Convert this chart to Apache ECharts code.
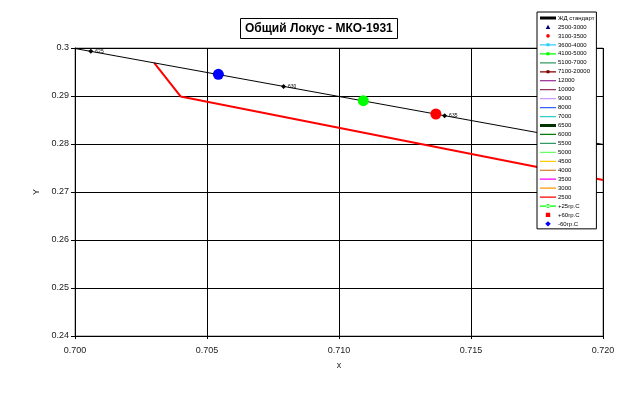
<!DOCTYPE html>
<html><head><meta charset="utf-8">
<script src="https://cdn.jsdelivr.net/npm/echarts@6/dist/echarts.min.js"></script>
<style>html,body{margin:0;padding:0;background:#fff}#c{width:622px;height:406px}</style>
</head><body><div id="c"></div>
<script>
// Spectral locus (ЖД стандарт)
const locusX = [0.6915, 0.7006, 0.7079, 0.7140, 0.7190, 0.7260];
const locusY = [0.3083, 0.2993, 0.2920, 0.2859, 0.2809, 0.2740];
const locusLabels = ['620', '625', '630', '635', '640', '650'];
// Red line (2500)
const redX = [0.7030, 0.7040, 0.7200];
const redY = [0.2969, 0.2899, 0.2725];
// Temperature points
const p25 = [0.71092, 0.28902];
const p60 = [0.71367, 0.28625];
const m60 = [0.70543, 0.29452];
// Axis ticks
const xTicks = ['0.700', '0.705', '0.710', '0.715', '0.720'];
const yTicks = ['0.24', '0.25', '0.26', '0.27', '0.28', '0.29', '0.3'];
// Legend entries
const legendNames = ['ЖД стандарт','2500-3000','3100-3500','3600-4000','4100-5000','5100-7000','7100-20000',
  '12000','10000','9000','8000','7000','6500','6000','5500','5000','4500','4000','3500','3000','2500',
  '+25гр.С','+60гр.С','-60гр.С'];
const legendColors = ['#000000','#000080','#ff0000','#33ccff','#00ff00','#339966','#800000',
  '#800080','#993366','#cc99ff','#3366ff','#33cccc','#003300','#008000','#339966','#66ff66','#ffcc00','#cc6600','#ff00ff','#ff9900','#ff0000',
  '#00ff00','#ff0000','#0000ff'];

const FONT = 'Liberation Sans';
// legend icon shapes in a 16x6 box (tiny corner dots fix the bounding box)
const BOX = 'M0,0h0.01v0.01h-0.01zM15.99,5.99h0.01v0.01h-0.01z';
const ICON = {
  line: 'path://' + BOX + 'M0,2.5h16v1.2h-16z',
  thick: 'path://' + BOX + 'M0,1.5h16v3h-16z',
  lineRect: 'path://' + BOX + 'M0,2.5h16v1.2h-16zM6.5,1.5h3v3h-3z',
  lineCircle: 'path://' + BOX + 'M0,2.5h16v1.2h-16zM6,3a2,2 0 1,0 4,0a2,2 0 1,0 -4,0z',
  triangle: 'path://' + BOX + 'M8,0.8L10.3,5H5.7z',
  circle: 'path://' + BOX + 'M6.2,3a1.8,1.8 0 1,0 3.6,0a1.8,1.8 0 1,0 -3.6,0z',
  rect: 'path://' + BOX + 'M5.8,0.8h4.4v4.4h-4.4z',
  diamond: 'path://' + BOX + 'M8,0.3L10.8,3L8,5.7L5.2,3z'
};

const series = [];
const legendData = [];
legendNames.forEach((n, i) => {
  const c = legendColors[i];
  let s = {name: n, type: 'line', data: [], color: c, symbol: 'none', lineStyle: {width: 1, color: c}, itemStyle: {color: c, opacity: 1}};
  let icon = ICON.line;
  if (n === 'ЖД стандарт') {
    s.data = locusX.map((x, k) => [x, locusY[k]]);
    s.z = 3;
    icon = ICON.thick;
  } else if (n === '2500-3000') {
    s = {name: n, type: 'scatter', data: [], symbol: 'triangle', color: c, itemStyle: {color: c, opacity: 1}};
    icon = ICON.triangle;
  } else if (n === '3100-3500') {
    s = {name: n, type: 'scatter', data: [], symbol: 'circle', color: c, itemStyle: {color: c, opacity: 1}};
    icon = ICON.circle;
  } else if (n === '3600-4000' || n === '4100-5000' || n === '7100-20000') {
    icon = ICON.lineRect;
  } else if (n === '6500') {
    s.lineStyle.width = 3;
    icon = ICON.thick;
  } else if (n === '2500') {
    s.data = redX.map((x, k) => [x, redY[k]]);
    s.lineStyle.width = 2;
    s.z = 2;
  } else if (n === '+25гр.С') {
    s.data = [p25]; s.symbol = 'circle'; s.symbolSize = 11; s.z = 5;
    icon = ICON.lineCircle;
  } else if (n === '+60гр.С') {
    s = {name: n, type: 'scatter', data: [p60], symbol: 'circle', symbolSize: 11, color: c, itemStyle: {color: c, opacity: 1}, z: 5};
    icon = ICON.rect;
  } else if (n === '-60гр.С') {
    s = {name: n, type: 'scatter', data: [m60], symbol: 'circle', symbolSize: 11, color: c, itemStyle: {color: c, opacity: 1}, z: 5};
    icon = ICON.diamond;
  }
  series.push(s);
  legendData.push({name: n, icon: icon, itemStyle: {color: c, borderWidth: 0, opacity: 1}});
});
// locus markers with wavelength labels (not in legend)
series.push({
  name: 'locusPts', type: 'scatter', symbol: 'diamond', symbolSize: 5, color: '#000', z: 3,
  itemStyle: {color: '#000', opacity: 1},
  data: locusX.map((x, k) => ({value: [x, locusY[k]], label: {show: true, formatter: locusLabels[k]}})),
  label: {position: 'right', distance: 2, fontSize: 5, fontFamily: FONT, color: '#000'}
});

const chart = echarts.init(document.getElementById('c'), null, {renderer: 'canvas'});
chart.setOption({
  animation: false,
  backgroundColor: '#fff',
  title: {
    text: 'Общий Локус - МКО-1931', left: 240, top: 18,
    borderColor: '#000', borderWidth: 1, padding: [5, 5, 4, 5],
    textStyle: {fontFamily: FONT, fontSize: 12, fontWeight: 'bold', color: '#000'}
  },
  legend: {
    data: legendData, orient: 'vertical', left: 537, top: 12, z: 10,
    itemWidth: 16, itemHeight: 6, itemGap: 2.95, padding: [3, 2, 2, 3],
    borderColor: '#000', borderWidth: 1, backgroundColor: '#fff',
    textStyle: {fontFamily: FONT, fontSize: 6, color: '#000', padding: [0, 0, 0, -3]},
    selectedMode: false
  },
  grid: {left: 75, right: 19, top: 48, bottom: 70, show: true, borderColor: '#808080', borderWidth: 1},
  xAxis: {
    type: 'value', min: 0.700, max: 0.720, interval: 0.005,
    name: 'x', nameLocation: 'middle', nameGap: 25,
    nameTextStyle: {fontFamily: FONT, fontSize: 9, color: '#222'},
    axisLine: {show: true, lineStyle: {color: '#000', width: 1}},
    axisTick: {show: true, length: 3, inside: false, lineStyle: {color: '#000'}},
    axisLabel: {fontFamily: FONT, fontSize: 9, color: '#222', margin: 10, formatter: (v) => xTicks[Math.round((v - 0.7) / 0.005)]},
    splitLine: {show: true, lineStyle: {color: '#000', width: 1}}
  },
  yAxis: {
    type: 'value', min: 0.24, max: 0.30, interval: 0.01,
    name: 'Y', nameLocation: 'middle', nameGap: 30, nameRotate: 90,
    nameTextStyle: {fontFamily: FONT, fontSize: 9, color: '#222'},
    axisLine: {show: true, lineStyle: {color: '#000', width: 1}},
    axisTick: {show: true, length: 4, lineStyle: {color: '#000'}},
    axisLabel: {fontFamily: FONT, fontSize: 9, color: '#222', margin: 6, formatter: (v) => yTicks[Math.round((v - 0.24) / 0.01)]},
    splitLine: {show: true, lineStyle: {color: '#000', width: 1}}
  },
  series: series
});
</script>
</body></html>
